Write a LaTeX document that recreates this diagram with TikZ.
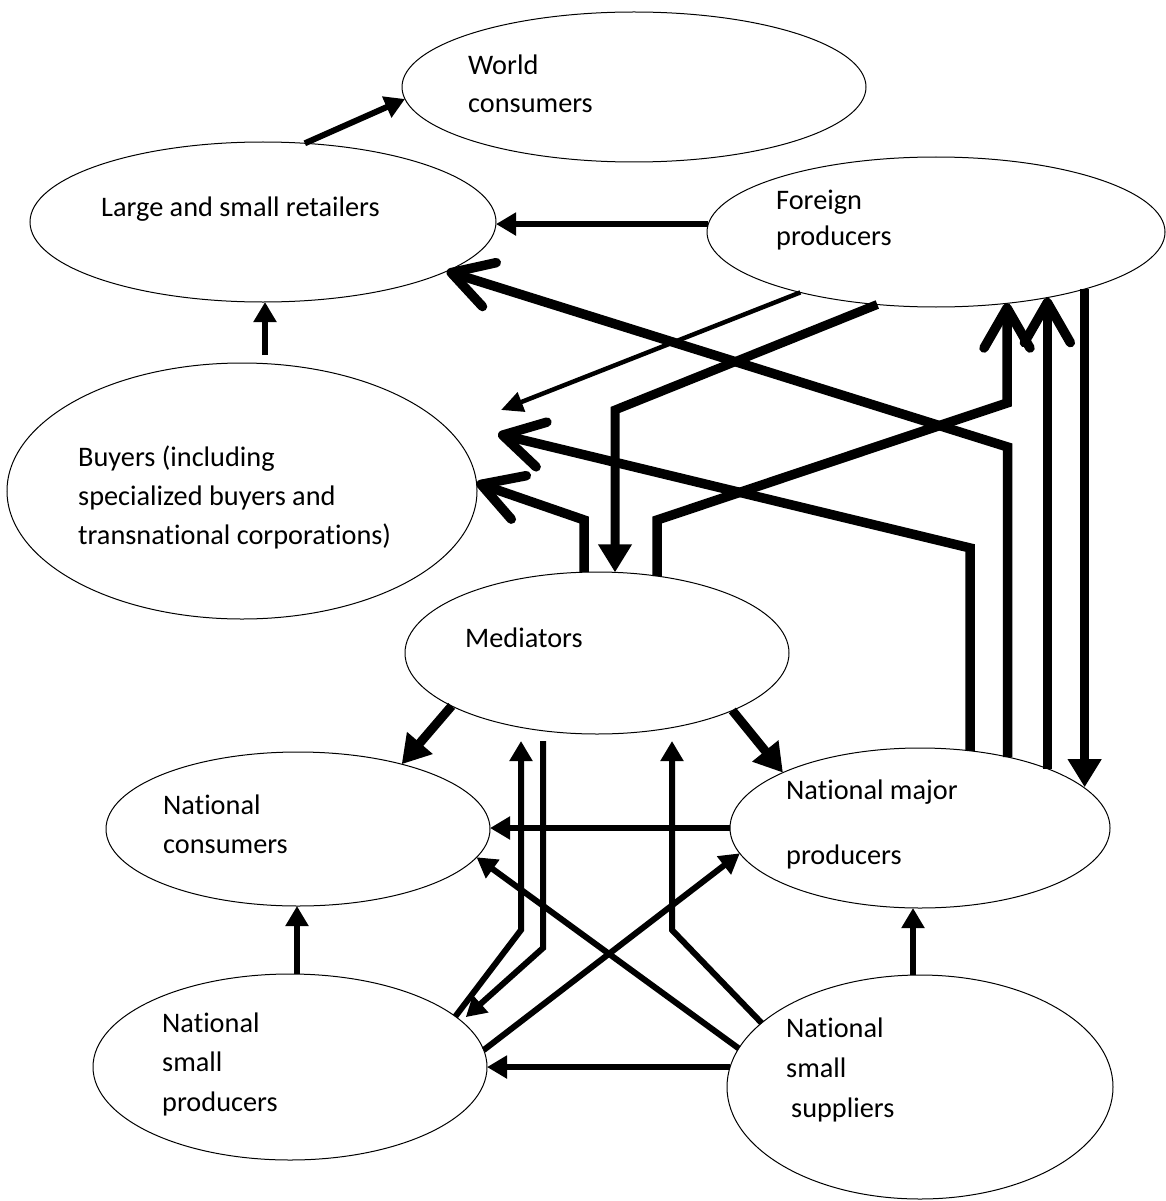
\documentclass[tikz,border=0pt]{standalone}
\usepackage{fontspec}
\setmainfont{Carlito}[Ligatures=NoCommon]
\usetikzlibrary{arrows.meta,shapes.geometric}

\begin{document}
\begin{tikzpicture}[x=1pt,y=-1pt,
  blob/.style={draw, fill=white, ellipse, line width=1pt, inner sep=0pt, outer sep=0pt},
  lbl/.style={anchor=base west, inner sep=0pt, font=\fontsize{28.3}{39}\selectfont},
  flow/.style={line width=6pt, -{Triangle[length=20pt,width=22pt]}},
  heavy/.style={line width=9pt, -{Triangle[length=28pt,width=32pt]}},
  barb/.style={line width=9.5pt, -{Straight Barb[length=40pt,width=46pt,round]}},
  fine/.style={line width=4.5pt, -{Triangle[length=22pt,width=20pt]}},
]
\useasboundingbox (0,0) rectangle (1165,1201);

% actors
\node[blob, minimum width=464pt, minimum height=150pt] (wc)  at (634,87)   {};
\node[blob, minimum width=466pt, minimum height=160pt] (ret) at (263,222)  {};
\node[blob, minimum width=458pt, minimum height=150pt] (fp)  at (936,232)  {};
\node[blob, minimum width=470pt, minimum height=256pt] (buy) at (242,491)  {};
\node[blob, minimum width=384pt, minimum height=162pt] (med) at (597,653)  {};
\node[blob, minimum width=384pt, minimum height=154pt] (nc)  at (298,829)  {};
\node[blob, minimum width=380pt, minimum height=160pt] (nmp) at (920,828)  {};
\node[blob, minimum width=394pt, minimum height=186pt] (nsp) at (290,1067) {};
\node[blob, minimum width=386pt, minimum height=224pt] (nss) at (920,1087) {};

% free ends and the level just below the mediators
\coordinate (bu) at (501,410);
\coordinate (bt) at (498,434);
\coordinate (ml) at ([yshift=-7pt]med.south);

% upper part
\draw[flow] (ret.62) -- (wc.183);
\draw[flow] (fp.178.7) -- (fp.178.7 -| ret.east);
\draw[flow] ([xshift=23pt,yshift=8pt]buy.north) -- ([xshift=2pt]ret.south);
\draw[fine] (fp.-156.1) -- (bu);
\draw[heavy] (fp.-129.1) -- (615,410) -- (615,0 |- med.77.4);
\draw[barb] (med.99.8) -- (med.99.8 |- 0,520) -- (buy.2);
\draw[barb] (med.52) -- (med.52 |- 0,520) -- (1007,403) -- (1007,0 |- fp.-45.1);
\draw[barb] (nmp.57.6) -- (nmp.57.6 |- 0,548) -- (bt);
\draw[barb] (nmp.39.3) -- (nmp.39.3 |- 0,447) -- (ret.-15.5);
\draw[barb] (nmp.25.7) -- (nmp.25.7 |- fp.-31.2);
\draw[heavy] (fp.-21.6) -- (fp.-21.6 |- nmp.14.5);

% lower part
\draw[heavy] (med.-160.9) -- (nc.32.3);
\draw[heavy] (med.-23.8) -- (nmp.158);
\draw[flow] (nmp.west) -- (nmp.west -| nc.east);
\draw[flow] (nsp.17.4) -- (521,930) -- (521,0 |- ml);
\draw[flow, shorten >=6pt] (543,0 |- ml) -- (543,948) -- (nsp.15);
\draw[flow] (nss.158.5) -- (672,930) -- (672,0 |- ml);
\draw[flow] (nsp.5) -- (nmp.-172);
\draw[flow] (nss.168.7) -- (nc.-9.8);
\draw[flow] (nss.174.1) -- (nss.174.1 -| nsp.east);
\draw[flow] ([xshift=7pt]nsp.north) -- ([xshift=-1pt]nc.south);
\draw[flow] ([xshift=-7pt]nss.north) -- ([xshift=-7pt]nmp.south);

% labels
\node[lbl] (wcA)  at (468,75)   {World};
\node[lbl] (wcB)  at (468,113)  {consumers};
\node[lbl] (retA) at (101,216)  {Large and small retailers};
\node[lbl] (fpA)  at (776,209)  {Foreign};
\node[lbl] (fpB)  at (776,245)  {producers};
\node[lbl] (buyA) at (78,466)   {Buyers (including};
\node[lbl] (buyB) at (78,505)   {specialized buyers and};
\node[lbl] (buyC) at (78,544)   {transnational corporations)};
\node[lbl] (medA) at (465,647)  {Mediators};
\node[lbl] (ncA)  at (163,814)  {National};
\node[lbl] (ncB)  at (163,853)  {consumers};
\node[lbl] (nmpA) at (786,799)  {National major};
\node[lbl] (nmpB) at (786,864)  {producers};
\node[lbl] (nspA) at (162,1032) {National};
\node[lbl] (nspB) at (162,1071) {small};
\node[lbl] (nspC) at (162,1111) {producers};
\node[lbl] (nssA) at (786,1037) {National};
\node[lbl] (nssB) at (786,1077) {small};
\node[lbl] (nssC) at (791,1117) {suppliers};
\end{tikzpicture}
\end{document}
